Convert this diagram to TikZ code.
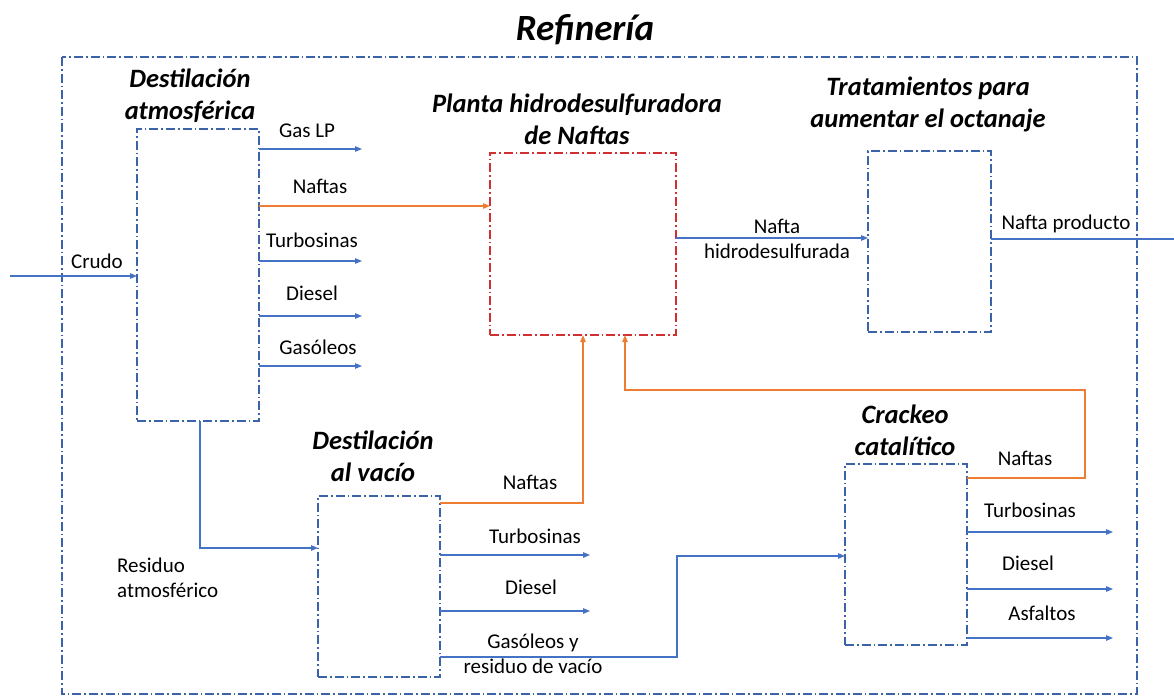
\documentclass[tikz,border=0pt]{standalone}
\usepackage{fontspec}
\setmainfont{Carlito}
\usetikzlibrary{arrows.meta}
\definecolor{flowblue}{HTML}{4472C4}
\definecolor{boxblue}{HTML}{3A63AA}
\definecolor{flowor}{HTML}{ED7D31}
\definecolor{boxred}{HTML}{D0302F}
\tikzset{
  dashdot/.style={dash pattern=on 9pt off 3pt on 1.6pt off 3pt},
  unitbox/.style={draw=boxblue, dashdot, line width=1.1pt, inner sep=0pt, outer sep=0pt},
  redbox/.style={draw=boxred, dashdot, line width=1.1pt, inner sep=0pt, outer sep=0pt},
  bflow/.style={draw=flowblue, line width=1.1pt, -{Triangle[length=7pt,width=5.5pt]}},
  oflow/.style={draw=flowor, line width=1.1pt, -{Triangle[length=7pt,width=5.5pt]}},
  bline/.style={draw=flowblue, line width=1.1pt},
  ttl/.style={font=\fontsize{26.5}{32}\selectfont\bfseries\itshape, align=center, inner sep=0pt},
  lbl/.style={font=\fontsize{21}{24.5}\selectfont, align=center, inner sep=0pt},
}
\begin{document}
\begin{tikzpicture}[x=1pt,y=-1pt]
\useasboundingbox (0,0) rectangle (1174,698);
\fill[white] (0,0) rectangle (1174,698);

% refinery boundary
\draw[draw=boxblue, dashdot, line width=1.1pt] (62,57) rectangle (1137,694);
\node[font=\fontsize{37}{40}\selectfont\bfseries\itshape, inner sep=0pt] (reftitle) at (585,30) {Refinería};

% process units
\node[unitbox, minimum width=122pt, minimum height=292pt] (atm) at (198,275) {};
\node[redbox,  minimum width=186pt, minimum height=182pt] (hds) at (583,244) {};
\node[unitbox, minimum width=123pt, minimum height=181pt] (oct) at (929.5,241.5) {};
\node[unitbox, minimum width=122pt, minimum height=181pt] (vac) at (379,586.5) {};
\node[unitbox, minimum width=122pt, minimum height=181pt] (crk) at (906,554.5) {};

% unit titles
\node[ttl] (atmT) at (190,96) {Destilación\\atmosférica};
\node[ttl] (hdsT) at (577,119) {Planta hidrodesulfuradora\\de Naftas};
\node[ttl] (octT) at (928,104) {Tratamientos para\\aumentar el octanaje};
\node[ttl] (vacT) at (373,456) {Destilación\\al vacío};
\node[ttl] (crkT) at (905,430) {Crackeo\\catalítico};

% free ends of streams
\coordinate (crudoIn) at (10,276);
\coordinate (gasEnd) at (362,149);
\coordinate (turEnd) at (362,261);
\coordinate (dieEnd) at (362,316);
\coordinate (gsoEnd) at (362,366);
\coordinate (prodEnd) at (1174,239);
\coordinate (vturEnd) at (590,555);
\coordinate (vdieEnd) at (590,611);
\coordinate (cturEnd) at (1113,532);
\coordinate (cdieEnd) at (1113,589);
\coordinate (casfEnd) at (1113,638);

% atmospheric distillation
\draw[bflow] (crudoIn) -- (atm.west |- crudoIn);
\node[lbl] (crudoL) at (97,261) {Crudo};
\draw[bflow] (atm.east |- gasEnd) -- (gasEnd);
\node[lbl] (gasL) at (307,131) {Gas LP};
\draw[oflow] (atm.east |- 0,206) -- (hds.west |- 0,206);
\node[lbl] (nafL) at (320,186) {Naftas};
\draw[bflow] (atm.east |- turEnd) -- (turEnd);
\node[lbl] (turL) at (312,240) {Turbosinas};
\draw[bflow] (atm.east |- dieEnd) -- (dieEnd);
\node[lbl] (dieL) at (312,293) {Diesel};
\draw[bflow] (atm.east |- gsoEnd) -- (gsoEnd);
\node[lbl] (gsoL) at (318,347) {Gasóleos};

% atmospheric residue to vacuum unit
\draw[bflow] (atm.south -| 200,0) |- (vac.west |- 0,548);
\node[lbl, align=left, anchor=west] (resL) at (117,578) {Residuo\\atmosférico};

% hydrotreater to octane treatment
\draw[bflow] (hds.east |- 0,238) -- (oct.west |- 0,238);
\node[lbl] (hdsL) at (777,239) {Nafta\\hidrodesulfurada};
\draw[bline] (oct.east |- prodEnd) -- (prodEnd);
\node[lbl] (prodL) at (1066,224) {Nafta producto};

% vacuum distillation
\draw[oflow] (vac.east |- 0,503) -| (hds.south -| 583,0);
\node[lbl] (vnafL) at (530,482) {Naftas};
\draw[bflow] (vac.east |- vturEnd) -- (vturEnd);
\node[lbl] (vturL) at (535,536) {Turbosinas};
\draw[bflow] (vac.east |- vdieEnd) -- (vdieEnd);
\node[lbl] (vdieL) at (531,587) {Diesel};
\draw[bflow] (vac.east |- 0,657) -| (677,556) -- (crk.west |- 0,556);
\node[lbl] (vresL) at (533,654) {Gasóleos y\\residuo de vacío};

% catalytic cracking
\draw[oflow] (crk.east |- 0,478) -| (1085,390) -| (hds.south -| 625,0);
\node[lbl] (cnafL) at (1025,458) {Naftas};
\draw[bflow] (crk.east |- cturEnd) -- (cturEnd);
\node[lbl] (cturL) at (1030,510) {Turbosinas};
\draw[bflow] (crk.east |- cdieEnd) -- (cdieEnd);
\node[lbl] (cdieL) at (1028,563) {Diesel};
\draw[bflow] (crk.east |- casfEnd) -- (casfEnd);
\node[lbl] (casfL) at (1042,613) {Asfaltos};
\end{tikzpicture}
\end{document}
